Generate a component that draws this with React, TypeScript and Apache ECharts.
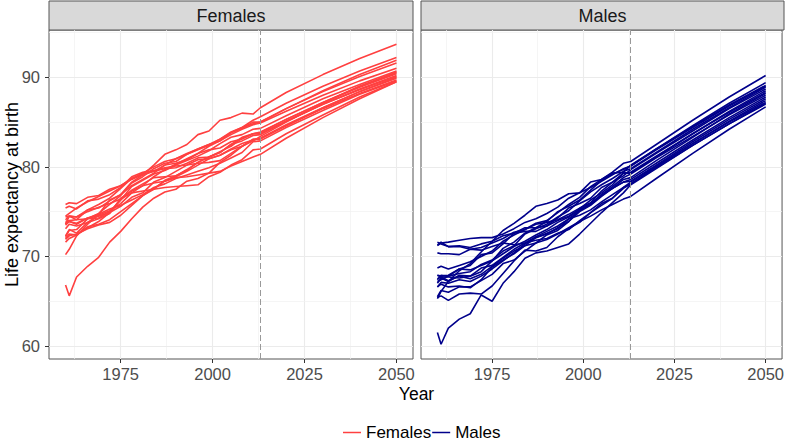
import React, { useEffect, useRef } from "react";
import * as echarts from "echarts";

// Years at which each trajectory is sampled (history to 2013, projections after)
const years = [1960, 1961, 1963, 1966, 1969, 1972, 1975, 1978, 1981, 1984, 1987, 1990, 1993, 1996, 1999, 2002, 2005, 2008, 2011, 2013, 2020, 2030, 2040, 2050];

const femaleLines: number[][] = [
  [75.8, 76.0, 75.9, 76.6, 76.8, 77.5, 77.9, 78.6, 79.2, 79.5, 79.8, 79.9, 80.4, 81.0, 81.1, 81.6, 82.5, 82.9, 83.5, 83.6, 85.1, 87.0, 88.7, 90.2],
  [75.4, 75.6, 75.3, 76.2, 76.4, 76.9, 77.7, 78.9, 79.4, 79.6, 79.9, 80.1, 80.2, 80.4, 80.5, 80.7, 81.5, 82.3, 83.0, 83.2, 84.6, 86.5, 88.2, 89.7],
  [74.5, 74.8, 75.4, 76.1, 76.7, 77.3, 77.9, 78.7, 79.1, 79.5, 80.2, 80.4, 80.8, 81.5, 81.9, 82.1, 82.8, 83.1, 83.7, 83.7, 85.1, 87.0, 88.6, 90.1],
  [74.4, 74.5, 74.4, 75.0, 75.5, 75.9, 76.4, 77.1, 77.3, 77.5, 77.7, 77.8, 77.9, 78.0, 78.9, 79.4, 80.2, 80.8, 81.9, 82.0, 83.7, 85.8, 87.8, 89.5],
  [74.1, 74.5, 74.4, 75.2, 75.8, 76.5, 77.6, 78.7, 79.3, 80.0, 80.6, 80.9, 81.5, 82.0, 82.5, 83.1, 83.9, 84.4, 84.8, 85.0, 86.5, 88.4, 90.1, 91.6],
  [73.9, 74.0, 74.1, 74.2, 74.3, 75.0, 76.3, 77.8, 78.5, 79.2, 79.6, 80.2, 80.7, 81.2, 81.8, 82.6, 83.3, 83.6, 84.2, 84.3, 85.7, 87.6, 89.2, 90.7],
  [73.6, 74.5, 74.1, 75.2, 75.4, 76.2, 76.9, 77.9, 78.6, 79.3, 80.2, 80.9, 81.4, 82.0, 82.5, 82.9, 83.8, 84.3, 85.0, 85.0, 86.5, 88.5, 90.3, 91.9],
  [73.7, 73.9, 73.7, 74.3, 74.7, 75.3, 75.7, 76.3, 76.9, 77.7, 78.1, 78.7, 79.1, 79.5, 79.9, 80.4, 81.0, 81.6, 82.8, 82.9, 84.4, 86.3, 88.1, 89.6],
  [73.5, 73.9, 73.6, 74.3, 74.5, 74.9, 75.6, 76.6, 77.1, 78.3, 78.8, 79.5, 80.2, 80.8, 80.9, 81.3, 81.9, 82.3, 83.1, 83.1, 84.6, 86.6, 88.4, 90.0],
  [73.1, 73.6, 73.4, 73.8, 74.2, 74.8, 76.5, 77.3, 77.9, 78.2, 78.4, 78.8, 78.9, 79.1, 79.3, 79.5, 80.1, 80.6, 81.1, 81.4, 83.2, 85.5, 87.6, 89.5],
  [72.3, 73.0, 72.6, 73.8, 74.6, 75.1, 75.9, 77.1, 77.9, 78.9, 79.7, 80.3, 80.9, 81.5, 82.3, 82.9, 83.6, 84.2, 84.7, 84.9, 86.2, 88.0, 89.6, 91.0],
  [72.2, 72.9, 73.0, 74.2, 74.8, 75.8, 76.8, 78.2, 78.9, 79.8, 80.4, 80.6, 81.4, 81.9, 82.4, 83.1, 83.8, 84.4, 85.2, 85.6, 87.1, 89.0, 90.7, 92.2],
  [72.0, 72.5, 72.4, 73.2, 73.9, 74.9, 76.3, 77.4, 78.1, 78.8, 78.9, 79.0, 79.6, 80.5, 81.1, 81.6, 82.5, 83.3, 83.7, 83.9, 85.3, 87.2, 88.9, 90.4],
  [71.9, 72.3, 72.5, 73.1, 73.5, 73.8, 74.6, 75.7, 76.8, 77.6, 78.4, 78.9, 79.5, 80.2, 80.9, 81.3, 82.0, 82.6, 83.0, 83.2, 84.7, 86.6, 88.4, 89.9],
  [71.6, 72.0, 72.4, 73.3, 73.6, 74.1, 75.0, 75.9, 76.8, 77.5, 78.5, 79.0, 79.7, 80.5, 81.1, 81.7, 82.3, 83.2, 83.7, 83.8, 85.3, 87.2, 89.0, 90.5],
  [70.2, 70.8, 72.3, 73.6, 74.7, 76.3, 76.9, 78.3, 79.1, 80.2, 81.4, 81.9, 82.5, 83.6, 84.0, 85.2, 85.5, 86.0, 85.9, 86.6, 88.3, 90.3, 92.1, 93.7],
  [66.8, 65.6, 67.7, 68.9, 69.9, 71.6, 72.8, 74.2, 75.5, 76.5, 77.2, 77.5, 78.4, 78.7, 79.3, 80.5, 81.3, 82.3, 82.9, 83.4, 85.0, 87.1, 89.0, 90.6],
];

const maleLines: number[][] = [
  [71.6, 71.4, 71.1, 71.1, 70.8, 71.0, 71.5, 72.0, 72.7, 73.0, 73.6, 73.8, 74.1, 74.7, 75.4, 76.0, 77.3, 78.3, 79.3, 79.4, 81.2, 83.7, 86.1, 88.3],
  [71.3, 71.6, 71.1, 71.2, 71.0, 71.4, 71.7, 72.3, 72.6, 72.8, 72.8, 73.4, 74.3, 75.4, 75.9, 76.5, 77.7, 78.3, 79.0, 79.7, 81.5, 84.0, 86.5, 88.7],
  [71.2, 71.5, 71.6, 71.8, 72.0, 72.1, 72.1, 72.5, 73.1, 73.8, 74.2, 74.8, 75.5, 76.5, 77.1, 77.7, 78.4, 79.1, 79.8, 80.1, 82.0, 84.6, 87.1, 89.4],
  [70.4, 70.3, 70.3, 70.2, 70.8, 70.7, 71.1, 71.5, 71.3, 71.5, 71.8, 72.0, 72.6, 73.0, 74.0, 74.9, 75.9, 76.5, 77.7, 78.3, 80.1, 82.6, 85.0, 87.2],
  [68.7, 68.9, 68.6, 69.0, 69.4, 70.0, 70.6, 71.7, 72.4, 73.0, 73.7, 74.0, 74.9, 75.8, 76.6, 77.8, 78.6, 79.4, 80.4, 80.6, 82.5, 85.2, 87.8, 90.2],
  [65.3, 66.1, 67.2, 68.4, 69.2, 70.5, 71.7, 72.9, 73.7, 74.6, 75.6, 75.9, 76.3, 77.0, 77.1, 78.3, 78.6, 79.3, 79.4, 80.2, 82.0, 84.5, 86.9, 89.1],
  [67.9, 67.7, 67.7, 67.6, 67.8, 68.3, 69.5, 70.9, 71.6, 72.6, 73.2, 73.9, 75.0, 75.6, 76.3, 77.4, 78.5, 79.2, 79.7, 80.1, 81.9, 84.4, 86.8, 89.0],
  [67.2, 67.4, 67.8, 68.1, 68.3, 69.1, 69.6, 70.6, 71.2, 72.5, 73.1, 73.6, 74.4, 75.1, 76.2, 77.2, 78.0, 78.7, 79.5, 79.8, 81.6, 84.2, 86.6, 88.9],
  [67.4, 67.9, 67.8, 68.6, 69.0, 70.2, 70.4, 71.4, 72.6, 73.2, 73.2, 73.4, 74.0, 74.5, 75.3, 76.3, 77.1, 78.0, 79.3, 79.3, 81.1, 83.7, 86.2, 88.5],
  [67.9, 67.8, 67.9, 68.6, 68.5, 69.0, 69.5, 70.3, 71.1, 71.7, 72.4, 73.0, 73.8, 74.4, 75.2, 75.9, 76.9, 77.8, 78.8, 79.2, 81.0, 83.4, 85.8, 88.0],
  [67.0, 67.6, 67.2, 67.9, 67.8, 68.7, 69.0, 69.9, 70.8, 71.5, 72.2, 72.8, 73.4, 74.2, 75.1, 75.8, 76.9, 77.6, 78.6, 78.8, 80.7, 83.3, 85.9, 88.2],
  [65.5, 66.2, 66.0, 66.6, 66.6, 67.3, 68.0, 69.2, 69.6, 70.6, 71.5, 72.4, 72.9, 73.9, 75.2, 75.9, 76.8, 77.6, 78.3, 78.6, 80.4, 83.0, 85.5, 87.8],
  [66.6, 67.1, 67.0, 67.4, 67.2, 67.8, 68.6, 69.5, 70.4, 71.4, 72.1, 72.5, 73.2, 73.9, 75.0, 75.7, 76.7, 77.6, 78.3, 78.4, 80.2, 82.8, 85.3, 87.6],
  [67.5, 67.7, 67.3, 67.8, 67.5, 68.0, 68.9, 69.8, 70.6, 71.2, 72.1, 72.6, 73.1, 74.2, 74.6, 75.2, 76.1, 76.9, 77.7, 78.1, 80.0, 82.6, 85.1, 87.4],
  [65.4, 65.6, 65.1, 65.8, 65.9, 65.8, 66.7, 68.1, 69.5, 70.7, 70.6, 71.0, 72.2, 73.1, 73.8, 74.9, 75.7, 76.5, 77.6, 78.1, 79.9, 82.4, 84.8, 87.0],
  [66.6, 66.9, 66.6, 66.7, 66.5, 67.4, 68.8, 69.6, 70.3, 71.2, 71.5, 71.9, 72.5, 73.2, 73.9, 74.5, 75.2, 75.8, 76.4, 76.7, 78.7, 81.5, 84.2, 86.7],
  [61.5, 60.2, 62.0, 63.0, 63.6, 65.7, 65.0, 67.0, 68.3, 69.8, 70.4, 70.6, 71.0, 71.4, 72.5, 73.7, 74.9, 76.0, 77.1, 78.0, 79.8, 82.4, 84.8, 87.1],
];

const xMajor = [1975, 2000, 2025, 2050];
const xMinor = [1962.5, 1987.5, 2012.5, 2037.5];
const yMajor = [60, 70, 80, 90];
const yMinor = [65, 75, 85, 95];
const forecastStart = 2013;
const panelNames = ["Females", "Males"];
const panelColors = ["#FF4040", "#00008B"];

const FONT = "'Liberation Sans', Arial, Helvetica, sans-serif";

export default function App() {
  const ref = useRef<HTMLDivElement>(null);
  useEffect(() => {
    const chart = echarts.init(ref.current!, null, { renderer: "svg" });
    const grids = [
      { left: 49, top: 30, width: 364, height: 329 },
      { left: 421, top: 30, width: 363, height: 329 },
    ];
    const panelData = [femaleLines, maleLines];

    const series: any[] = [];
    grids.forEach((_, p) => {
      const gridLines = [
        ...xMajor.map((v) => ({ xAxis: v, lineStyle: { color: "#ebebeb", width: 1.1, type: "solid" } })),
        ...xMinor.map((v) => ({ xAxis: v, lineStyle: { color: "#f0f0f0", width: 0.7, type: "solid" } })),
        ...yMajor.map((v) => ({ yAxis: v, lineStyle: { color: "#ebebeb", width: 1.1, type: "solid" } })),
        ...yMinor.map((v) => ({ yAxis: v, lineStyle: { color: "#f0f0f0", width: 0.7, type: "solid" } })),
      ];
      series.push({
        type: "line",
        name: "grid" + p,
        xAxisIndex: p,
        yAxisIndex: p,
        data: [],
        symbol: "none",
        silent: true,
        markLine: {
          silent: true,
          symbol: ["none", "none"],
          z: 1,
          label: { show: false },
          data: gridLines,
        },
      });
      panelData[p].forEach((vals) => {
        series.push({
          type: "line",
          name: panelNames[p],
          xAxisIndex: p,
          yAxisIndex: p,
          data: years.map((y, i) => [y, vals[i]]),
          symbol: "none",
          showSymbol: false,
          silent: true,
          z: 2,
          lineStyle: { color: panelColors[p], width: 1.6 },
          itemStyle: { color: panelColors[p] },
        });
      });
      series.push({
        type: "line",
        name: "forecast" + p,
        xAxisIndex: p,
        yAxisIndex: p,
        data: [],
        symbol: "none",
        silent: true,
        markLine: {
          silent: true,
          symbol: ["none", "none"],
          z: 5,
          label: { show: false },
          lineStyle: { color: "#999999", width: 1, type: [6, 3] },
          data: [{ xAxis: forecastStart }],
        },
      });
    });

    const option: any = {
      animation: false,
      backgroundColor: "#ffffff",
      textStyle: { fontFamily: FONT },
      grid: grids.map((g) => ({
        ...g,
        show: true,
        backgroundColor: "#ffffff",
        borderColor: "#555555",
        borderWidth: 1,
        containLabel: false,
      })),
      xAxis: grids.map((_, p) => ({
        type: "value",
        gridIndex: p,
        min: 1955.5,
        max: 2054.5,
        axisLine: { show: false },
        splitLine: { show: false },
        axisTick: { show: true, length: 4, lineStyle: { color: "#333333" }, customValues: xMajor },
        axisLabel: {
          customValues: xMajor,
          formatter: (v: number) => String(v),
          fontSize: 16.5,
          color: "#4d4d4d",
          margin: 6,
          fontFamily: FONT,
        },
      })),
      yAxis: grids.map((_, p) => ({
        type: "value",
        gridIndex: p,
        min: 58.55,
        max: 95.28,
        axisLine: { show: false },
        splitLine: { show: false },
        axisTick: {
          show: p === 0,
          length: 4,
          lineStyle: { color: "#333333" },
          customValues: yMajor,
        },
        axisLabel: {
          show: p === 0,
          customValues: yMajor,
          formatter: (v: number) => String(v),
          fontSize: 16.5,
          color: "#4d4d4d",
          margin: 9,
          fontFamily: FONT,
        },
      })),
      legend: {
        data: [
          { name: "Females", icon: "rect" },
          { name: "Males", icon: "rect" },
        ],
        left: 343,
        top: 424,
        padding: 0,
        itemWidth: 18,
        itemHeight: 1.5,
        itemGap: 1,
        selectedMode: false,
        textStyle: { fontSize: 17, color: "#000000", fontFamily: FONT },
      },
      graphic: [
        ...grids.map((g, p) => ({
          type: "group",
          children: [
            {
              type: "rect",
              shape: { x: g.left, y: 1, width: g.width, height: 29 },
              style: { fill: "#d9d9d9", stroke: "#555555", lineWidth: 1 },
            },
            {
              type: "text",
              x: g.left + g.width / 2,
              y: 15.5,
              style: {
                text: panelNames[p],
                fontSize: 18,
                fontFamily: FONT,
                fill: "#1a1a1a",
                textAlign: "center",
                textVerticalAlign: "middle",
                align: "center",
                verticalAlign: "middle",
              },
            },
          ],
        })),
        {
          type: "text",
          x: 416.5,
          y: 394,
          style: {
            text: "Year",
            fontSize: 17.5,
            fontFamily: FONT,
            fill: "#000000",
            textAlign: "center",
            textVerticalAlign: "middle",
            align: "center",
            verticalAlign: "middle",
          },
        },
        {
          type: "text",
          x: 12,
          y: 194.5,
          rotation: Math.PI / 2,
          style: {
            text: "Life expectancy at birth",
            fontSize: 18,
            fontFamily: FONT,
            fill: "#000000",
            textAlign: "center",
            textVerticalAlign: "middle",
            align: "center",
            verticalAlign: "middle",
          },
        },
      ],
      series,
    };
    chart.setOption(option);
    return () => chart.dispose();
  }, []);
  return (
    <div
      ref={ref}
      style={{ position: "fixed", left: 0, top: 0, width: 787, height: 442 }}
    />
  );
}
